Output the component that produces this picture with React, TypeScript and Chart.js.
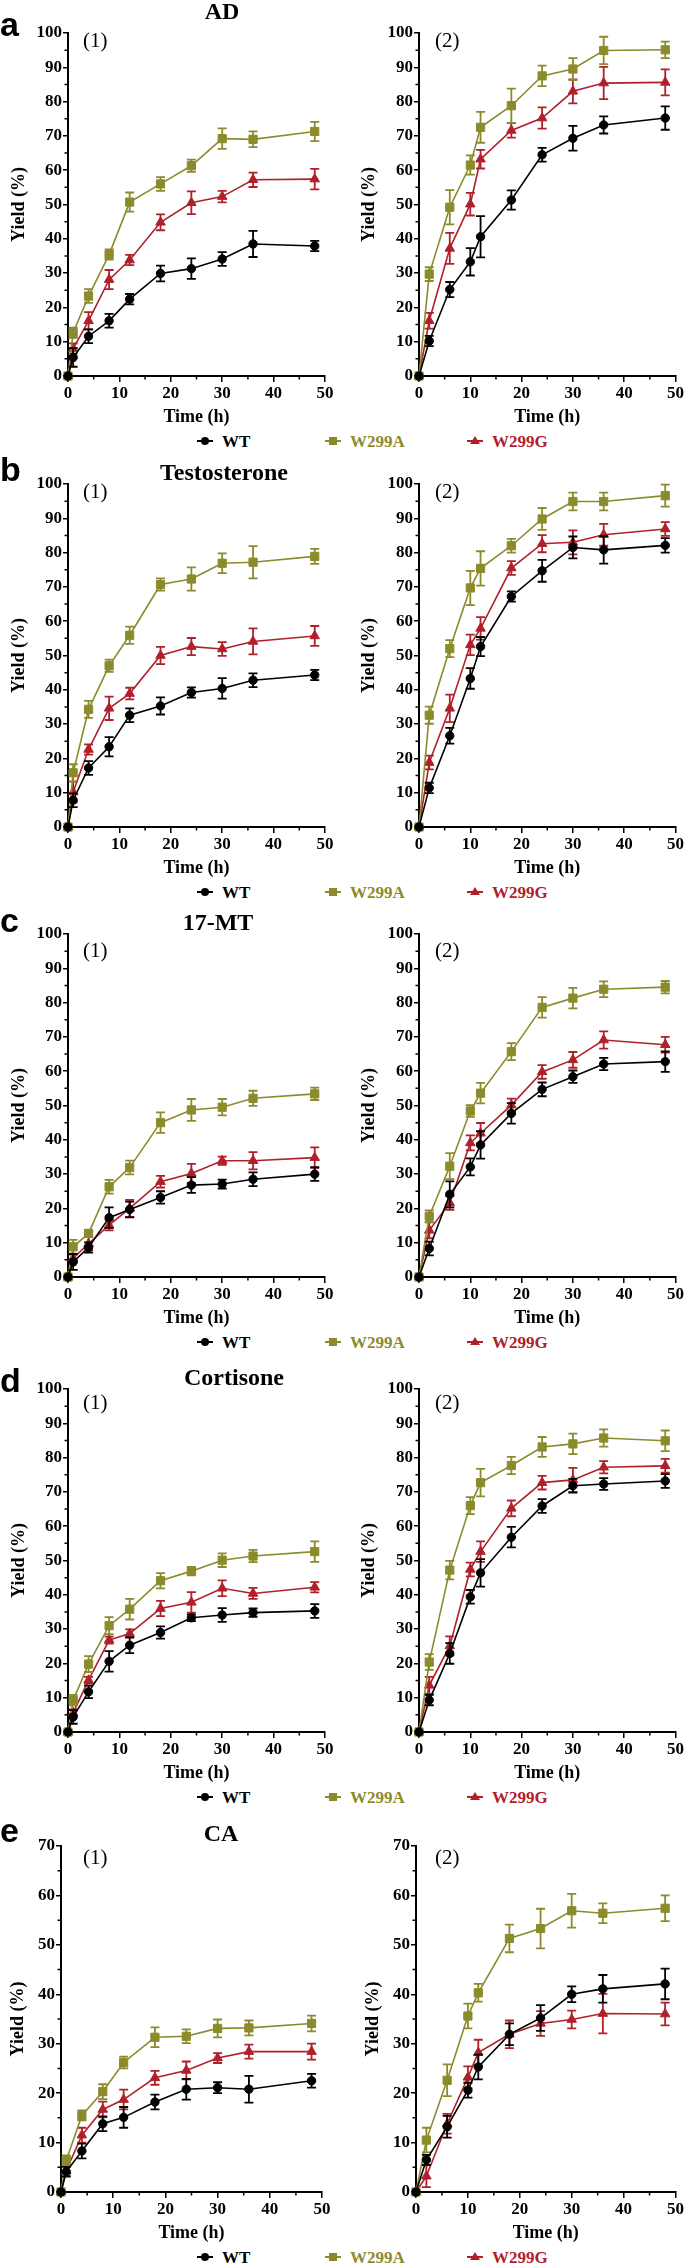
import React, { useEffect, useRef } from 'react';
import { Chart, registerables } from 'chart.js';

Chart.register(...registerables);

// ---------- DATA ----------
const TIMES_1 = [0, 1, 4, 8, 12, 18, 24, 30, 36, 48];
const TIMES_2 = [0, 2, 6, 10, 12, 18, 24, 30, 36, 48];
const SERIES_NAMES = ['WT', 'W299A', 'W299G'];

// AD (1)
const AD1_WT = [0, 5.4, 11.6, 16.1, 22.4, 29.9, 31.3, 34.1, 38.5, 37.9];
const AD1_WT_SD = [0, 2.7, 2.0, 2.0, 1.5, 2.3, 3.0, 2.0, 3.8, 1.5];
const AD1_A = [0, 12.6, 23.3, 35.4, 50.7, 56.0, 61.3, 69.2, 69.0, 71.3];
const AD1_A_SD = [0, 1.5, 2.0, 1.5, 2.8, 2.0, 1.8, 3.0, 2.3, 2.8];
const AD1_G = [0, 8.0, 16.1, 28.1, 33.8, 44.8, 50.5, 52.3, 57.2, 57.4];
const AD1_G_SD = [0, 1.5, 2.5, 2.8, 1.5, 2.3, 3.3, 1.7, 2.1, 3.0];
// AD (2)
const AD2_WT = [0, 10.2, 25.2, 33.3, 40.6, 51.3, 64.5, 69.3, 73.2, 75.2];
const AD2_WT_SD = [0, 1.5, 2.2, 4.0, 6.0, 2.8, 2.0, 3.6, 2.5, 3.4];
const AD2_A = [0, 29.7, 49.2, 61.5, 72.5, 78.8, 87.5, 89.5, 94.9, 95.1];
const AD2_A_SD = [0, 2.0, 5.0, 2.8, 4.5, 5.0, 3.0, 3.2, 4.0, 2.4];
const AD2_G = [0, 16.1, 37.2, 50.1, 63.2, 71.6, 75.2, 83.0, 85.4, 85.6];
const AD2_G_SD = [0, 2.3, 4.5, 3.3, 2.7, 2.1, 3.1, 3.5, 4.7, 3.8];
// Testosterone (1)
const TES1_WT = [0, 7.8, 17.2, 23.4, 32.6, 35.3, 39.2, 40.4, 42.8, 44.3];
const TES1_WT_SD = [0, 2.0, 2.0, 2.8, 2.0, 2.5, 1.5, 3.0, 2.0, 1.5];
const TES1_A = [0, 15.8, 34.3, 47.0, 55.9, 70.7, 72.3, 76.9, 77.2, 78.9];
const TES1_A_SD = [0, 2.5, 2.5, 1.8, 2.5, 1.8, 3.4, 2.9, 4.7, 2.2];
const TES1_G = [0, 10.2, 22.6, 34.6, 38.9, 50.0, 52.6, 51.9, 54.1, 55.7];
const TES1_G_SD = [0, 3.0, 1.5, 3.4, 1.7, 2.5, 2.5, 2.0, 3.8, 2.9];
// Testosterone (2)
const TES2_WT = [0, 11.4, 26.6, 43.3, 52.6, 67.2, 74.7, 81.5, 80.8, 82.1];
const TES2_WT_SD = [0, 1.5, 2.3, 3.0, 2.8, 1.5, 3.2, 3.2, 4.0, 2.1];
const TES2_A = [0, 32.6, 52.0, 69.7, 75.4, 82.0, 89.8, 94.9, 94.9, 96.6];
const TES2_A_SD = [0, 2.5, 2.5, 5.0, 5.0, 2.0, 3.2, 2.6, 2.6, 3.2];
const TES2_G = [0, 18.8, 34.6, 53.1, 57.9, 75.5, 82.6, 83.0, 85.2, 86.9];
const TES2_G_SD = [0, 2.0, 4.0, 3.0, 3.3, 2.0, 2.5, 3.5, 3.2, 2.0];
// 17-MT (1)
const MT1_WT = [0, 4.4, 8.6, 17.3, 19.7, 23.2, 26.8, 27.1, 28.5, 30.0];
const MT1_WT_SD = [0, 2.3, 1.5, 3.0, 2.3, 1.8, 2.3, 1.3, 2.0, 2.0];
const MT1_A = [0, 8.8, 12.7, 26.3, 31.9, 45.0, 48.7, 49.5, 52.1, 53.4];
const MT1_A_SD = [0, 2.0, 1.0, 2.0, 2.0, 3.0, 3.2, 2.4, 2.2, 1.8];
const MT1_G = [0, 5.5, 9.7, 15.1, 20.0, 27.8, 30.2, 33.9, 33.9, 34.8];
const MT1_G_SD = [0, 1.0, 2.0, 1.5, 2.5, 1.7, 2.8, 1.2, 2.5, 3.0];
// 17-MT (2)
const MT2_WT = [0, 8.3, 24.1, 32.1, 38.5, 47.7, 54.7, 58.4, 62.1, 62.8];
const MT2_WT_SD = [0, 2.0, 3.8, 2.5, 4.0, 3.0, 2.0, 1.8, 1.8, 3.0];
const MT2_A = [0, 17.7, 32.3, 48.4, 53.6, 65.7, 78.6, 81.3, 83.9, 84.5];
const MT2_A_SD = [0, 1.7, 3.8, 1.7, 3.0, 2.5, 3.0, 3.0, 2.3, 1.8];
const MT2_G = [0, 13.6, 21.6, 39.1, 41.9, 50.1, 59.8, 63.3, 69.1, 67.7];
const MT2_G_SD = [0, 2.3, 2.0, 2.2, 3.0, 1.9, 2.0, 2.3, 2.5, 2.3];
// Cortisone (1)
const COR1_WT = [0, 4.4, 11.7, 20.6, 25.3, 29.0, 33.3, 34.1, 34.8, 35.3];
const COR1_WT_SD = [0, 2.0, 1.8, 3.0, 2.3, 1.8, 1.0, 2.0, 1.2, 2.0];
const COR1_A = [0, 9.3, 19.8, 31.0, 35.8, 44.1, 46.9, 50.1, 51.3, 52.6];
const COR1_A_SD = [0, 1.5, 2.3, 2.5, 3.0, 2.2, 1.2, 2.0, 1.8, 3.0];
const COR1_G = [0, 5.6, 15.1, 26.8, 28.7, 36.0, 37.8, 41.9, 40.4, 42.2];
const COR1_G_SD = [0, 1.0, 1.0, 1.0, 1.2, 2.2, 3.0, 2.3, 1.6, 1.5];
// Cortisone (2)
const COR2_WT = [0, 9.3, 22.9, 39.4, 46.4, 56.8, 65.9, 71.8, 72.3, 73.2];
const COR2_WT_SD = [0, 1.5, 3.0, 2.0, 4.0, 3.0, 2.0, 2.0, 1.7, 2.0];
const COR2_A = [0, 20.4, 47.2, 66.0, 72.7, 77.7, 83.1, 84.0, 85.7, 84.9];
const COR2_A_SD = [0, 2.3, 2.7, 2.5, 4.0, 2.5, 2.9, 3.0, 2.5, 3.0];
const COR2_G = [0, 13.6, 25.1, 47.4, 52.6, 65.2, 72.7, 73.5, 77.2, 77.6];
const COR2_G_SD = [0, 2.5, 2.8, 2.0, 3.0, 2.3, 2.0, 3.5, 1.8, 2.0];
// CA (1)
const CA1_WT = [0, 4.1, 8.3, 13.8, 15.1, 18.2, 20.8, 21.1, 20.8, 22.5];
const CA1_WT_SD = [0, 1.0, 1.5, 1.5, 2.1, 1.5, 2.1, 1.1, 2.7, 1.4];
const CA1_A = [0, 6.4, 15.5, 20.3, 26.2, 31.3, 31.5, 33.1, 33.2, 34.1];
const CA1_A_SD = [0, 1.0, 1.0, 1.5, 1.2, 2.0, 1.4, 1.8, 1.5, 1.6];
const CA1_G = [0, 4.3, 11.5, 16.7, 18.7, 23.1, 24.6, 27.1, 28.4, 28.4];
const CA1_G_SD = [0, 1.0, 1.5, 1.6, 2.0, 1.4, 1.8, 1.0, 1.4, 1.6];
// CA (2)
const CA2_WT = [0, 6.5, 13.2, 20.6, 25.3, 31.9, 35.2, 40.0, 41.1, 42.1];
const CA2_WT_SD = [0, 1.0, 2.2, 1.5, 2.5, 2.2, 2.6, 1.6, 2.8, 3.1];
const CA2_A = [0, 10.5, 22.6, 35.6, 40.3, 51.3, 53.3, 56.9, 56.4, 57.4];
const CA2_A_SD = [0, 2.5, 3.2, 2.5, 1.8, 2.8, 4.0, 3.4, 2.0, 2.6];
const CA2_G = [0, 3.2, 13.8, 23.2, 28.2, 31.9, 34.1, 34.9, 36.1, 36.0];
const CA2_G_SD = [0, 2.2, 2.0, 2.2, 2.6, 2.8, 2.5, 1.8, 4.0, 2.3];

// ---------- STYLE ----------
const COLORS = ['#000000', '#8b8b2c', '#b0202a'];
const POINT_STYLES = ['circle', 'rect', 'triangle'];
const POINT_RADII = [4.2, 5.8, 5.5];
const SERIF = '"Liberation Serif", "Times New Roman", serif';

type PanelSpec = {
  x: number; w: number; plotLeft: number; plotRight: number; titlePad: number;
  top: number; bottom: number; ymax: number; times: number[];
  vals: number[][]; errs: number[][];
};

const errorBarPlugin = {
  id: 'errorBars',
  afterDatasetDraw(chart: any, args: any) {
    const ds = chart.data.datasets[args.index];
    const meta = args.meta;
    const ys = chart.scales.y;
    const ctx = chart.ctx;
    ctx.save();
    ctx.strokeStyle = ds.borderColor;
    ctx.lineWidth = 1.8;
    meta.data.forEach((pt: any, j: number) => {
      const e = ds.errors[j];
      if (!e) return;
      const v = ds.data[j].y;
      const yt = ys.getPixelForValue(v + e);
      const yb = ys.getPixelForValue(v - e);
      const x = pt.x;
      const cw = 4.5;
      ctx.beginPath();
      ctx.moveTo(x, yt); ctx.lineTo(x, yb);
      ctx.moveTo(x - cw, yt); ctx.lineTo(x + cw, yt);
      ctx.moveTo(x - cw, yb); ctx.lineTo(x + cw, yb);
      ctx.stroke();
    });
    ctx.restore();
  },
};

const minorTickPlugin = {
  id: 'minorTicks',
  afterDraw(chart: any) {
    const { ctx, chartArea, scales } = chart;
    ctx.save();
    ctx.strokeStyle = '#000';
    ctx.lineWidth = 1.5;
    ctx.beginPath();
    for (let v = 5; v < scales.x.max; v += 10) {
      const px = scales.x.getPixelForValue(v);
      ctx.moveTo(px, chartArea.bottom);
      ctx.lineTo(px, chartArea.bottom + 3.5);
    }
    for (let v = 5; v < scales.y.max; v += 10) {
      const py = scales.y.getPixelForValue(v);
      ctx.moveTo(chartArea.left - 3.5, py);
      ctx.lineTo(chartArea.left, py);
    }
    ctx.stroke();
    ctx.restore();
  },
};

const PAD_TOP = 20;
const XAXIS_H = 55;

function Panel({ spec }: { spec: PanelSpec }) {
  const ref = useRef<HTMLCanvasElement>(null);
  const height = PAD_TOP + (spec.bottom - spec.top) + XAXIS_H;
  useEffect(() => {
    if (!ref.current) return;
    const tickFont = { family: SERIF, size: 17, weight: 'bold' as const };
    const titleFont = { family: SERIF, size: 18, weight: 'bold' as const };
    const chart = new Chart(ref.current, {
      type: 'line',
      data: {
        datasets: SERIES_NAMES.map((name, i) => ({
          label: name,
          data: spec.times.map((t, j) => ({ x: t, y: spec.vals[i][j] })),
          errors: spec.errs[i],
          borderColor: COLORS[i],
          backgroundColor: COLORS[i],
          pointBackgroundColor: COLORS[i],
          pointBorderColor: COLORS[i],
          pointBorderWidth: 1,
          borderWidth: 1.6,
          pointStyle: POINT_STYLES[i],
          pointRadius: POINT_RADII[i],
          tension: 0,
          clip: false,
        })) as any,
      },
      options: {
        animation: false,
        responsive: false,
        maintainAspectRatio: false,
        events: [],
        layout: { padding: { top: PAD_TOP, right: spec.w - spec.plotRight, left: 0, bottom: 0 } },
        plugins: { legend: { display: false }, tooltip: { enabled: false }, title: { display: false } },
        scales: {
          x: {
            type: 'linear', min: 0, max: 50,
            ticks: { stepSize: 10, font: tickFont, color: '#000', padding: 1, maxRotation: 0, autoSkip: false },
            grid: { display: true, drawOnChartArea: false, drawTicks: true, tickLength: 6, color: '#000', lineWidth: 1.5 },
            border: { display: true, color: '#000', width: 2 },
            title: { display: true, text: 'Time (h)', font: titleFont, color: '#000', padding: { top: 0, bottom: 3 } },
            afterFit(s: any) { s.height = XAXIS_H; },
          },
          y: {
            type: 'linear', min: 0, max: spec.ymax,
            ticks: { stepSize: 10, font: tickFont, color: '#000', padding: 1, autoSkip: false },
            grid: { display: true, drawOnChartArea: false, drawTicks: true, tickLength: 5, color: '#000', lineWidth: 1.5 },
            border: { display: true, color: '#000', width: 2 },
            title: { display: true, text: 'Yield (%)', font: titleFont, color: '#000', padding: { top: spec.titlePad, bottom: 0 } },
            afterFit(s: any) { s.width = spec.plotLeft; },
          },
        },
      } as any,
      plugins: [errorBarPlugin, minorTickPlugin],
    });
    return () => chart.destroy();
  }, [spec]);
  return (
    <canvas
      ref={ref}
      width={spec.w}
      height={height}
      style={{ position: 'absolute', left: spec.x, top: spec.top - PAD_TOP, width: spec.w, height }}
    />
  );
}

type RowSpec = {
  letter: string; title: string; titleX: number; titleY: number; letterY: number;
  top: number; bottom: number; labelY: number; legendY: number; ymax: number;
  left: PanelSpec; right: PanelSpec;
};

function makeRow(
  letter: string, title: string, titleX: number, titleY: number, letterY: number,
  top: number, bottom: number, labelY: number, legendY: number, ymax: number,
  lVals: number[][], lErrs: number[][], rVals: number[][], rErrs: number[][], lastRow: boolean,
): RowSpec {
  return {
    letter, title, titleX, titleY, letterY, top, bottom, labelY, legendY, ymax,
    left: {
      x: 0, w: 340, plotLeft: lastRow ? 61 : 68, plotRight: lastRow ? 322 : 325,
      titlePad: lastRow ? 7.7 : 8.2, top, bottom, ymax, times: TIMES_1, vals: lVals, errs: lErrs,
    },
    right: {
      x: 340, w: 345, plotLeft: lastRow ? 76 : 79, plotRight: 337,
      titlePad: lastRow ? 22.7 : 18.7, top, bottom, ymax, times: TIMES_2, vals: rVals, errs: rErrs,
    },
  };
}

const ROWS: RowSpec[] = [
  makeRow('a', 'AD', 222, 11, 27, 33, 376, 40, 441, 100,
    [AD1_WT, AD1_A, AD1_G], [AD1_WT_SD, AD1_A_SD, AD1_G_SD],
    [AD2_WT, AD2_A, AD2_G], [AD2_WT_SD, AD2_A_SD, AD2_G_SD], false),
  makeRow('b', 'Testosterone', 224, 472, 472, 484, 827, 491, 892, 100,
    [TES1_WT, TES1_A, TES1_G], [TES1_WT_SD, TES1_A_SD, TES1_G_SD],
    [TES2_WT, TES2_A, TES2_G], [TES2_WT_SD, TES2_A_SD, TES2_G_SD], false),
  makeRow('c', '17-MT', 218, 922, 923, 934, 1277, 950, 1342, 100,
    [MT1_WT, MT1_A, MT1_G], [MT1_WT_SD, MT1_A_SD, MT1_G_SD],
    [MT2_WT, MT2_A, MT2_G], [MT2_WT_SD, MT2_A_SD, MT2_G_SD], false),
  makeRow('d', 'Cortisone', 234, 1377, 1383, 1389, 1732, 1402, 1797, 100,
    [COR1_WT, COR1_A, COR1_G], [COR1_WT_SD, COR1_A_SD, COR1_G_SD],
    [COR2_WT, COR2_A, COR2_G], [COR2_WT_SD, COR2_A_SD, COR2_G_SD], false),
  makeRow('e', 'CA', 221, 1833, 1833, 1846, 2192, 1857, 2257, 70,
    [CA1_WT, CA1_A, CA1_G], [CA1_WT_SD, CA1_A_SD, CA1_G_SD],
    [CA2_WT, CA2_A, CA2_G], [CA2_WT_SD, CA2_A_SD, CA2_G_SD], true),
];

const LEGEND_MARKER_X = [205, 333, 475];
const LEGEND_TEXT_X = [222, 350, 492];

function LegendMarker({ i, cx, cy }: { i: number; cx: number; cy: number }) {
  const c = COLORS[i];
  let shape: React.ReactNode;
  if (i === 0) {
    shape = <div style={{ position: 'absolute', left: cx - 4, top: cy - 4, width: 8, height: 8, borderRadius: '50%', background: c }} />;
  } else if (i === 1) {
    shape = <div style={{ position: 'absolute', left: cx - 4, top: cy - 4, width: 8, height: 8, background: c }} />;
  } else {
    shape = <div style={{ position: 'absolute', left: cx - 5, top: cy - 5, width: 0, height: 0, borderLeft: '5px solid transparent', borderRight: '5px solid transparent', borderBottom: `8px solid ${c}` }} />;
  }
  return (
    <>
      <div style={{ position: 'absolute', left: cx - 8, top: cy - 1, width: 16, height: 2, background: c }} />
      {shape}
    </>
  );
}

const centered: React.CSSProperties = {
  position: 'absolute', transform: 'translate(-50%, -50%)', lineHeight: 1, whiteSpace: 'nowrap',
};

export default function App() {
  return (
    <div style={{ position: 'absolute', left: 0, top: 0, width: 685, height: 2265, background: '#fff', overflow: 'hidden' }}>
      {ROWS.map((row) => (
        <React.Fragment key={row.letter}>
          <Panel spec={row.left} />
          <Panel spec={row.right} />
          <div style={{ position: 'absolute', left: 0, top: row.letterY, transform: 'translateY(-58%)', lineHeight: 1, fontFamily: '"Liberation Sans", Arial, sans-serif', fontWeight: 'bold', fontSize: 34 }}>{row.letter}</div>
          <div style={{ ...centered, left: row.titleX, top: row.titleY, fontFamily: SERIF, fontWeight: 'bold', fontSize: 24 }}>{row.title}</div>
          <div style={{ position: 'absolute', left: 83, top: row.labelY, transform: 'translateY(-50%)', lineHeight: 1, fontFamily: SERIF, fontSize: 21 }}>(1)</div>
          <div style={{ position: 'absolute', left: 435, top: row.labelY, transform: 'translateY(-50%)', lineHeight: 1, fontFamily: SERIF, fontSize: 21 }}>(2)</div>
          {SERIES_NAMES.map((name, i) => (
            <React.Fragment key={name}>
              <LegendMarker i={i} cx={LEGEND_MARKER_X[i]} cy={row.legendY} />
              <div style={{ position: 'absolute', left: LEGEND_TEXT_X[i], top: row.legendY, transform: 'translateY(-50%)', lineHeight: 1, fontFamily: SERIF, fontWeight: 'bold', fontSize: 17, color: COLORS[i] }}>{name}</div>
            </React.Fragment>
          ))}
        </React.Fragment>
      ))}
    </div>
  );
}
